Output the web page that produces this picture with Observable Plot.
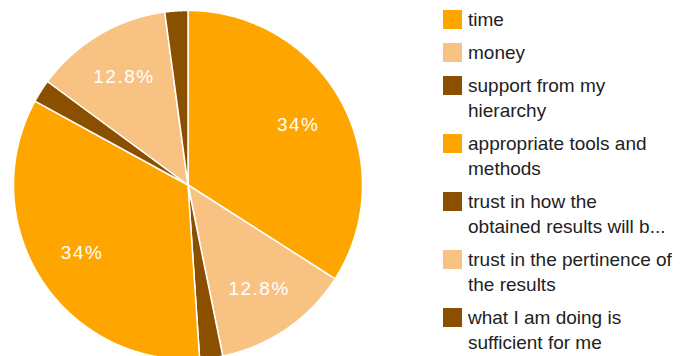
<!DOCTYPE html>
<html>
<head>
<meta charset="utf-8">
<script src="https://cdn.jsdelivr.net/npm/d3@7"></script>
<script src="https://cdn.jsdelivr.net/npm/@observablehq/plot@0.6"></script>
<style>
  html, body { margin: 0; padding: 0; background: #fff; }
  #wrap { position: relative; width: 684px; height: 356px; overflow: hidden; }
  #chart svg { display: block; }
  #chart g[aria-label="text"] text { letter-spacing: 1.5px; }
  #legend { position: absolute; left: 443px; top: 7px; font-family: Arial, "Liberation Sans", sans-serif; font-size: 19px; line-height: 25px; color: #222; }
  .item { display: flex; align-items: flex-start; margin-bottom: 8px; }
  .sw { width: 19px; height: 19px; margin-top: 3px; margin-right: 6px; flex: none; }
  .lab { white-space: pre; }
</style>
</head>
<body>
<div id="wrap">
  <div id="chart"></div>
  <div id="legend"></div>
</div>
<script>
const categories = [
  "time",
  "money",
  "support from my hierarchy",
  "appropriate tools and methods",
  "trust in how the obtained results will be used",
  "trust in the pertinence of the results",
  "what I am doing is sufficient for me"
];
const legendLabels = [
  "time",
  "money",
  "support from my\nhierarchy",
  "appropriate tools and\nmethods",
  "trust in how the\nobtained results will b...",
  "trust in the pertinence of\nthe results",
  "what I am doing is\nsufficient for me"
];
const counts = [16, 6, 1, 16, 1, 6, 1];
const colors = ["#FFA500", "#F8C283", "#8B4F00", "#FFA500", "#8B4F00", "#F8C283", "#8B4F00"];

const data = categories.map((c, i) => ({cat: c, count: counts[i]}));
const total = d3.sum(counts);
const arcs = d3.pie().sort(null).value(d => d.count)(data);

// polygon outline of each slice in unit coordinates
const pts = [];
arcs.forEach(a => {
  const cat = a.data.cat;
  pts.push({cat, x: 0, y: 0});
  const n = Math.max(2, Math.ceil((a.endAngle - a.startAngle) / 0.01));
  for (let k = 0; k <= n; k++) {
    const t = a.startAngle + (a.endAngle - a.startAngle) * k / n;
    pts.push({cat, x: Math.sin(t), y: Math.cos(t)});
  }
});

const labels = arcs
  .filter(a => a.data.count / total > 0.05)
  .map(a => {
    const m = (a.startAngle + a.endAngle) / 2;
    const p = Math.round(a.data.count / total * 1000) / 10;
    return {x: 0.72 * Math.sin(m), y: 0.72 * Math.cos(m), text: p + "%"};
  });

const plot = Plot.plot({
  width: 684,
  height: 356,
  marginLeft: 13,
  marginRight: 322,
  marginTop: 10,
  marginBottom: 0,
  x: {domain: [-1, 1], axis: null},
  y: {domain: [(184.5 - 356) / 174.5, 1], axis: null},
  color: {type: "ordinal", domain: categories, range: colors},
  marks: [
    Plot.line(pts, {x: "x", y: "y", z: "cat", fill: "cat", stroke: "white", strokeWidth: 1.5, strokeLinejoin: "round", curve: "linear-closed"}),
    Plot.text(labels, {x: "x", y: "y", text: "text", fill: "white", fontSize: 19, fontFamily: "Arial, 'Liberation Sans', sans-serif"})
  ]
});
document.getElementById("chart").appendChild(plot);

const legend = document.getElementById("legend");
legendLabels.forEach((l, i) => {
  const it = document.createElement("div");
  it.className = "item";
  const sw = document.createElement("div");
  sw.className = "sw";
  sw.style.background = colors[i];
  const lab = document.createElement("div");
  lab.className = "lab";
  lab.textContent = l;
  it.appendChild(sw);
  it.appendChild(lab);
  legend.appendChild(it);
});
</script>
</body>
</html>
